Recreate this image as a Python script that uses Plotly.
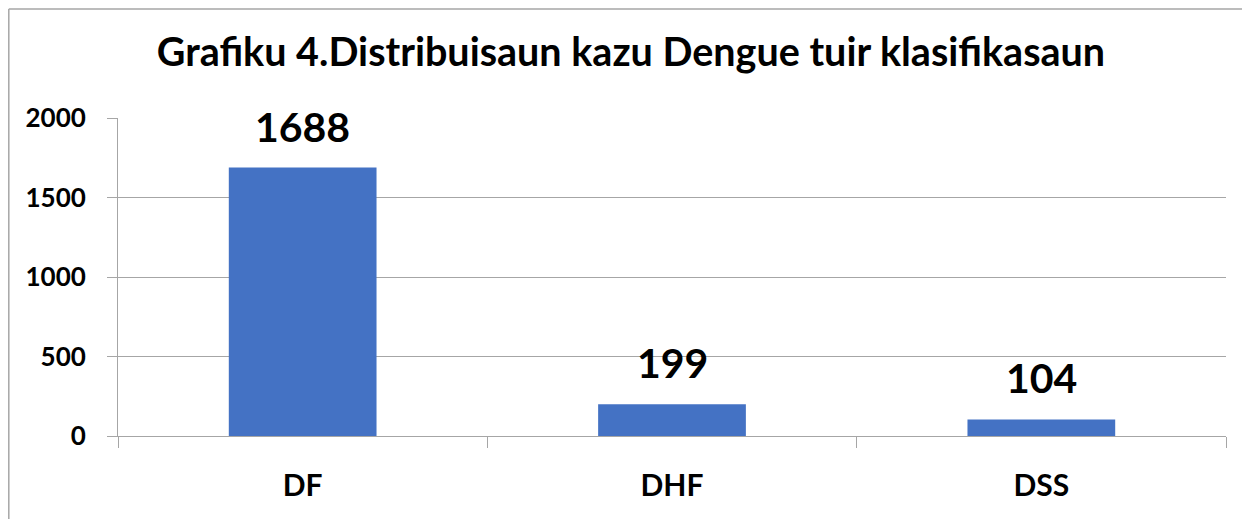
import plotly.graph_objects as go

categories = ["DF", "DHF", "DSS"]
values = [1688, 199, 104]
y_ticks = [0, 500, 1000, 1500, 2000]
title_text = "Grafiku 4.Distribuisaun kazu Dengue tuir klasifikasaun"

FONT = "Lato"
GRID = "#a6a6a6"

W, H = 1242, 511
L, R, T, B = 110, 24, 110, 83
PW, PH = W - L - R, H - T - B

fig = go.Figure()
fig.add_trace(go.Bar(x=categories, y=values, marker=dict(color="#4472C4", line=dict(width=0)),
                     hoverinfo="x+y"))

for c, v in zip(categories, values):
    fig.add_annotation(x=c, y=v, text=str(v), showarrow=False, yanchor="bottom", yshift=15,
                       font=dict(family=FONT, size=41, color="black", weight="bold"))

# chart border (left and top visible)
bx = (0.8 - L) / PW
by = 1 + (T - 1) / PH
fig.add_shape(type="line", xref="paper", yref="paper", x0=bx, x1=bx, y0=by, y1=-0.5,
              line=dict(color=GRID, width=1.5))
fig.add_shape(type="line", xref="paper", yref="paper", x0=bx, x1=1.3, y0=by, y1=by,
              line=dict(color=GRID, width=1.5))

fig.update_layout(
    width=W, height=H,
    margin=dict(l=L, r=R, t=T, b=B),
    paper_bgcolor="white", plot_bgcolor="white",
    bargap=0.6,
    showlegend=False,
    title=dict(text=title_text, x=(631 - 8) / W, xanchor="center", xref="container",
               y=1 - 44 / H, yanchor="middle", yref="container",
               font=dict(family=FONT, size=39.5, color="black", weight="bold")),
    font=dict(family=FONT, color="black"),
)
fig.update_xaxes(type="category", tickson="boundaries", ticks="outside", ticklen=11, tickcolor=GRID,
                 showline=True, linecolor=GRID, linewidth=1, showgrid=False,
                 tickfont=dict(family=FONT, size=30, color="black", weight="bold"),
                 ticklabelstandoff=23)
fig.update_yaxes(range=[0, 2000], tickvals=y_ticks, ticks="outside", ticklen=10, tickcolor=GRID,
                 showline=True, linecolor=GRID, linewidth=1, showgrid=True, gridcolor=GRID, gridwidth=1,
                 zeroline=False,
                 tickfont=dict(family=FONT, size=26, color="black", weight="bold"),
                 ticklabelstandoff=16)

fig.write_html("out.html")
